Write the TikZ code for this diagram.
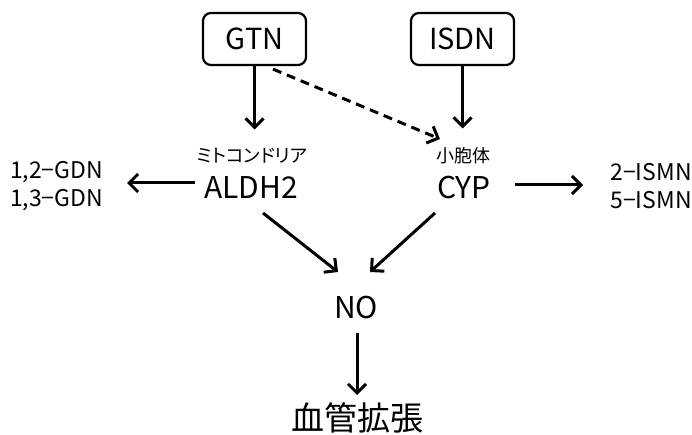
\documentclass[tikz,border=0pt]{standalone}
\usepackage{fontspec}
\setmainfont{Noto Sans CJK JP}
\newfontfamily\paltfont{Noto Sans CJK JP}[RawFeature=+palt]
\usetikzlibrary{arrows.meta}
\begin{document}
\begin{tikzpicture}[x=1pt,y=-1pt,
  box/.style={draw,line width=2.2pt,rounded corners=8pt,minimum width=103pt,minimum height=52pt,font=\fontsize{29}{29}\selectfont,inner sep=0pt},
  big/.style={font=\fontsize{30}{30}\selectfont,inner sep=0pt},
  small/.style={font=\fontsize{18}{18}\selectfont,inner sep=0pt},
  side/.style={font=\fontsize{23}{28}\selectfont,align=center,inner sep=0pt},
  arr/.style={line width=3pt,-{Straight Barb[length=9pt,width=18pt,line width=3pt]}}]
\useasboundingbox (0,0) rectangle (692,435);
\node[box] (gtn) at (254.5,39) {GTN};
\node[box] (isdn) at (462.5,39) {ISDN};
\node[small,font=\paltfont\fontsize{18.5}{18.5}\selectfont] (mito) at (252,155.5) {ミトコンドリア};
\node[big] (aldh) at (251,187.5) {ALDH2};
\node[small] (shou) at (463,155.5) {小胞体};
\node[big] (cyp) at (464,187.5) {CYP};
\node[side] (gdn) at (56.5,186) {1,2−GDN\\1,3−GDN};
\node[side] (ismn) at (651,186) {2−ISMN\\5−ISMN};
\node[big] (no) at (356,307.5) {NO};
\node[font=\fontsize{33}{33}\selectfont,inner sep=0pt] (vaso) at (357,418) {血管拡張};
\draw[arr] (gtn.south) -- ([yshift=26pt]mito.center -| gtn.south);
\draw[arr] (isdn.south) -- ([yshift=27pt]shou.center -| isdn.south);
\draw[arr,dash pattern=on 9pt off 6pt] ([xshift=18.5pt,yshift=-3pt]gtn.south) -- ([xshift=-23pt,yshift=16.5pt]shou.center);
\draw[arr] ([xshift=-56pt,yshift=4.5pt]aldh.center) -- ([xshift=70.5pt,yshift=3pt]gdn.center);
\draw[arr] ([xshift=51pt,yshift=2.5pt]cyp.center) -- ([xshift=-68pt,yshift=1pt]ismn.center);
\draw[arr] ([xshift=12pt,yshift=-25.5pt]aldh.center) -- ([xshift=-18pt,yshift=35.5pt]no.center);
\draw[arr] ([xshift=-29pt,yshift=-25.5pt]cyp.center) -- ([xshift=14pt,yshift=35.5pt]no.center);
\draw[arr] ([xshift=1pt,yshift=-25.5pt]no.center) -- ([xshift=0pt,yshift=23pt]vaso.center);
\end{tikzpicture}
\end{document}
